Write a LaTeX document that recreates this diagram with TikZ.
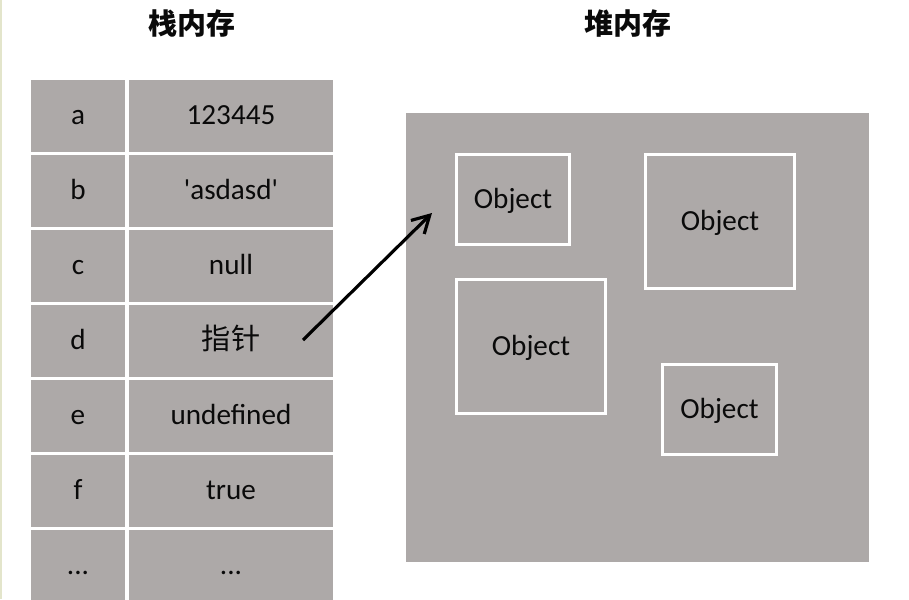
\documentclass[tikz,border=0pt]{standalone}
\usepackage{fontspec}
\setmainfont{Carlito}
\newfontfamily\cjk{Noto Sans CJK SC}
\usetikzlibrary{arrows.meta, positioning}
\definecolor{memgray}{HTML}{ADA9A8}
\definecolor{ink}{HTML}{0A0A0A}
\definecolor{pageedge}{HTML}{E3E5CB}

\begin{document}
\begin{tikzpicture}[
  x=0.02cm, y=-0.02cm,
  keycell/.style={fill=memgray, minimum width=1.88cm, minimum height=1.44cm,
                  inner sep=0pt, text=ink, text height=12pt, text depth=1.8pt,
                  font=\fontsize{16.6}{18}\selectfont},
  valcell/.style={keycell, minimum width=4.08cm},
  obj/.style={draw=white, line width=1.7pt, inner sep=0pt, text=ink,
              text height=12pt, text depth=1.8pt,
              font=\fontsize{16.6}{18}\selectfont},
  title/.style={text=ink, font=\cjk\bfseries\fontsize{16.5}{18}\selectfont},
  >={Straight Barb[length=3.4mm, width=3.8mm]}
]
\useasboundingbox[fill=white] (0,0) rectangle (909,599);
\fill[pageedge] (0,0) rectangle (2.5,599);

% titles
\node[title] (stacktitle) at (192,23) {栈内存};
\node[title] (heaptitle)  at (628,23) {堆内存};

% stack memory
\node[keycell] (ka) at (78,116) {a};
\node[valcell] (va) at (231,116) {123445};
\node[keycell] (kb) at (78,191) {b};
\node[valcell] (vb) at (231,191) {\textquotesingle asdasd\textquotesingle};
\node[keycell] (kc) at (78,266) {c};
\node[valcell] (vc) at (231,266) {null};
\node[keycell] (kd) at (78,341) {d};
\node[valcell] (vd) at (231,341) {\cjk 指针};
\node[keycell] (ke) at (78,416) {e};
\node[valcell] (ve) at (231,416) {undefined};
\node[keycell] (kf) at (78,491) {f};
\node[valcell] (vf) at (231,491) {true};
\node[keycell] (kx) at (78,566) {...};
\node[valcell] (vx) at (231,566) {...};

% heap memory
\node[fill=memgray, minimum width=9.26cm, minimum height=8.98cm, inner sep=0pt]
  (heap) at (637.5,337.5) {};
\node[obj, minimum width=2.26cm, minimum height=1.80cm] (obja) at (513,199.5) {Object};
\node[obj, minimum width=2.98cm, minimum height=2.68cm] (objb) at (720,221.5) {Object};
\node[obj, minimum width=2.98cm, minimum height=2.68cm] (objc) at (531,346.5) {Object};
\node[obj, minimum width=2.28cm, minimum height=1.80cm] (objd) at (719.5,409.5) {Object};

\coordinate (ptr)  at (303,340);
\coordinate (ptrend) at (432,213);
\draw[->, line width=1.8pt] (ptr) -- (ptrend);
\end{tikzpicture}
\end{document}
